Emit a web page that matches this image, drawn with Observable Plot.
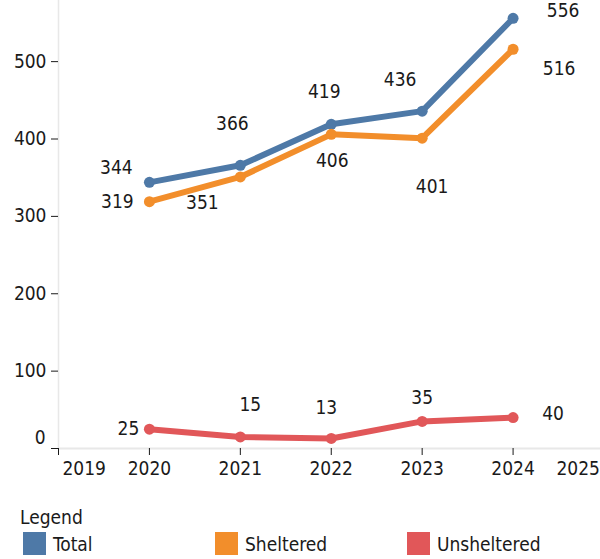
<!DOCTYPE html>
<html>
<head>
<meta charset="utf-8">
<script src="https://cdn.jsdelivr.net/npm/d3@7"></script>
<script src="https://cdn.jsdelivr.net/npm/@observablehq/plot@0.6"></script>
<style>
  html, body { margin: 0; padding: 0; background: #fff; overflow: hidden; }
  #wrap { position: relative; width: 600px; height: 559px; font-family: "DejaVu Sans Condensed", "DejaVu Sans", sans-serif; color: #1a1a1a; }
  #chart svg { display: block; }
  .lg-title { position: absolute; left: 20px; top: 506px; font-size: 19px; line-height: 22px; }
  .sw { position: absolute; top: 532px; width: 23px; height: 23px; }
  .lb { position: absolute; top: 533px; font-size: 19px; line-height: 23px; }
</style>
</head>
<body>
<div id="wrap">
  <div id="chart"></div>
  <div id="legend"></div>
</div>
<script>
const years = [2020, 2021, 2022, 2023, 2024];
const seriesNames = ["Total", "Sheltered", "Unsheltered"];
const totalValues = [344, 366, 419, 436, 556];
const shelteredValues = [319, 351, 406, 401, 516];
const unshelteredValues = [25, 15, 13, 35, 40];
const yTicks = [0, 100, 200, 300, 400, 500];
const xTicks = [2019, 2020, 2021, 2022, 2023, 2024, 2025];
const colors = ["#4e79a7", "#f28e2b", "#e15759"];

// label offsets (layout only, pixels relative to each point)
const labelOffsets = {
  Total: [[-33, -14], [-8, -41], [-7, -32], [-22, -31], [50, -7]],
  Sheltered: [[-32, 0], [-38, 26], [1, 27], [10, 49], [46, 20]],
  Unsheltered: [[-21, 0], [10, -32], [-5, -31], [0, -24], [40, -4]]
};

const valuesBySeries = {Total: totalValues, Sheltered: shelteredValues, Unsheltered: unshelteredValues};
const data = seriesNames.flatMap(s => years.map((y, i) => ({series: s, year: y, value: valuesBySeries[s][i], idx: i})));

const FS = 19;
const labelMarks = data.map(d => Plot.text([d], {
  x: "year", y: "value", text: r => String(r.value),
  dx: labelOffsets[d.series][d.idx][0], dy: labelOffsets[d.series][d.idx][1],
  fontSize: FS, fill: "#1a1a1a"
}));

const chart = Plot.plot({
  width: 600,
  height: 495,
  marginLeft: 58,
  marginRight: 0,
  marginTop: 0,
  marginBottom: 47,
  style: {fontFamily: '"DejaVu Sans Condensed", "DejaVu Sans", sans-serif', fontSize: FS + "px", color: "#1a1a1a", background: "#fff", overflow: "hidden"},
  x: {domain: [2019, 2025], range: [58, 603.5], label: null},
  y: {domain: [0, 579], range: [448, 0], label: null},
  color: {domain: seriesNames, range: colors},
  marks: [
    Plot.ruleX([2019], {stroke: "#e8e8e8", strokeWidth: 1.5}),
    Plot.ruleY([0], {stroke: "#e8e8e8", strokeWidth: 2}),
    Plot.axisY({ticks: yTicks, label: null, tickSize: 7, tickPadding: 5, tickFormat: d => d === 0 ? "" : String(d), fontSize: FS, stroke: "#1a1a1a", fill: "#1a1a1a"}),
    Plot.text([0], {y: d => d, text: d => String(d), frameAnchor: "left", textAnchor: "end", dx: -13, dy: -11, fontSize: FS, fill: "#1a1a1a"}),
    Plot.axisX({ticks: xTicks, label: null, tickSize: 7, tickPadding: 6, tickFormat: d => (d === 2019 || d === 2025) ? "" : String(d), fontSize: FS, stroke: "#1a1a1a", fill: "#1a1a1a"}),
    Plot.axisX({ticks: [2019], label: null, tickSize: 0, tickPadding: 13, textAnchor: "start", dx: 4, tickFormat: d => String(d), fontSize: FS, fill: "#1a1a1a"}),
    Plot.axisX({ticks: [2025], label: null, tickSize: 0, tickPadding: 13, textAnchor: "end", dx: -4, tickFormat: d => String(d), fontSize: FS, fill: "#1a1a1a"}),
    Plot.line(data, {x: "year", y: "value", z: "series", stroke: "series", strokeWidth: 6, strokeLinejoin: "round", strokeLinecap: "round"}),
    Plot.dot(data, {x: "year", y: "value", fill: "series", r: 5.5}),
    ...labelMarks
  ]
});
document.getElementById("chart").appendChild(chart);

const legend = document.getElementById("legend");
const title = document.createElement("div");
title.className = "lg-title";
title.textContent = "Legend";
legend.appendChild(title);
const lefts = [23, 215, 407];
seriesNames.forEach((s, i) => {
  const sw = document.createElement("div");
  sw.className = "sw";
  sw.style.left = lefts[i] + "px";
  sw.style.background = colors[i];
  legend.appendChild(sw);
  const lb = document.createElement("div");
  lb.className = "lb";
  lb.style.left = (lefts[i] + 30) + "px";
  lb.textContent = s;
  legend.appendChild(lb);
});
</script>
</body>
</html>
